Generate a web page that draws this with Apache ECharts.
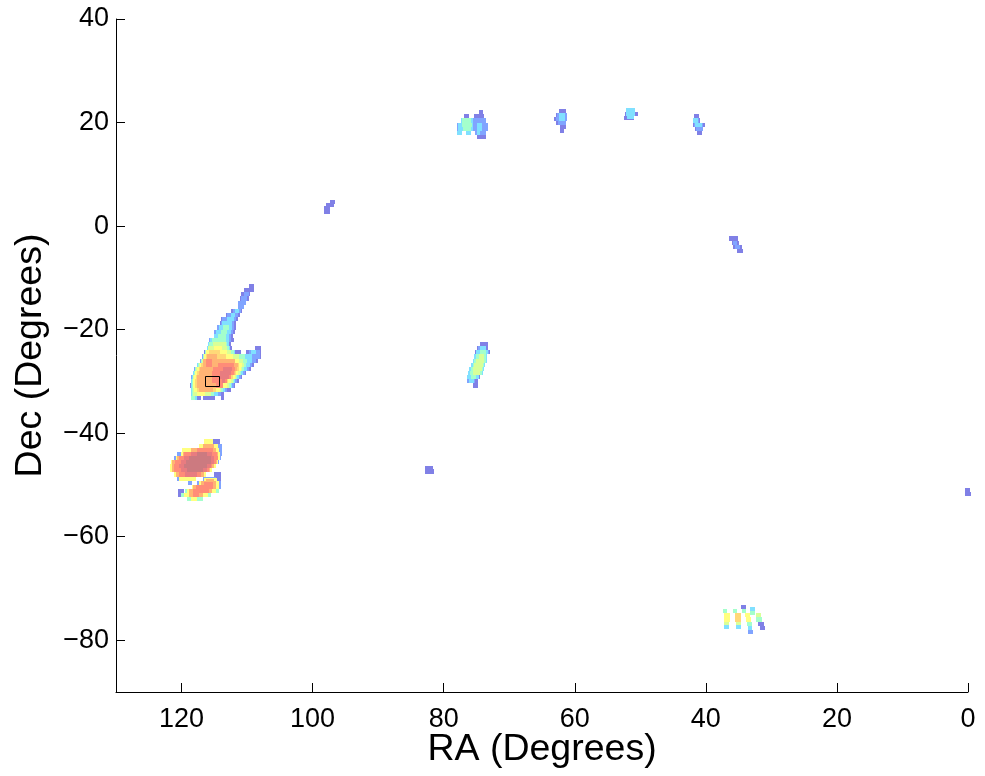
<!DOCTYPE html>
<html>
<head>
<meta charset="utf-8">
<style>html,body{margin:0;padding:0;background:#fff}#c{width:985px;height:776px}</style>
<script src="https://cdn.jsdelivr.net/npm/echarts@6/dist/echarts.min.js"></script>
</head>
<body>
<div id="c"></div>
<script>
const raTicks = [0,20,40,60,80,100,120];
const decTicks = [-80,-60,-40,-20,0,20,40];
const levelColors = ['#ffffff','#8080e6','#80a4ff','#80e0ff','#a4ffcc','#d8ff98','#ffff80','#ffd878','#ffb474','#ff8c78','#e87c80','#cc7a80'];
const boxRect = [116.4,114.3,-29,-31];

// rows: [dec of row top, RA left, RA right]
const mainViolet = [[-11.2,109.7,109],[-12,110.4,109],[-12.8,111,109.5],[-13.6,111.1,109.7],[-16,112.5,110.7],[-16.8,113.2,111.1],[-17.6,114,111.4],[-18.4,114.2,111.7],[-19.2,114.6,111.7],[-20,115,111.9],[-20.8,115.1,112.2],[-21.6,115.8,112],[-22.4,116,112.5],[-23.2,116.1,112.3],[-23.2,108.8,107.8],[-24,116.5,111],[-24,110.2,107.9],[-24.8,116.9,107.9],[-25.6,117.2,108.4],[-26.4,117.7,108.9],[-27.2,118.1,109.4],[-28,118.3,110.1],[-28.8,118.5,110.8],[-29.6,118.6,111.3],[-30.4,118.7,111.8],[-31.2,118.6,112.5],[-32,118.5,113.5],[-32.8,116.8,114.9],[-32.8,114,113.5],[-32.8,117.6,117]];
const mainBlue = [[-13.6,111,110],[-14.4,111.4,110.2],[-15.2,111.4,110.5],[-16,112.2,111],[-16.8,113,111.4],[-17.6,113.8,111.7],[-18.4,114,112],[-19.2,114.6,112],[-20,115,112.2],[-20.8,115.1,112.4],[-21.6,115.8,112.4],[-12.8,110.4,109.7],[-24,109.7,108.1],[-24.8,116.9,108],[-25.6,117.2,108.7],[-26.4,117.7,109.2],[-27.2,118.1,109.7],[-28,118.3,110.3],[-28.8,118.5,111],[-29.6,118.6,111.5],[-30.4,118.6,112],[-31.2,118.5,113],[-32,118.5,114]];
const mainCyan = [[-16,111.8,111.3],[-16.8,112.5,111.8],[-17.6,113,112],[-18.4,113.8,112.3],[-19.2,114.3,112.3],[-20,114.8,112.5],[-20.8,115,112.7],[-21.6,115.7,112.8],[-22.4,115.9,112.7],[-23.2,116.1,112.6],[-24,116.4,111.8],[-24,109.4,108.6],[-24.8,116.8,109.2],[-25.6,117.1,109.2],[-26.4,117.6,109.6],[-27.2,118,110],[-28,118.2,110.6],[-28.8,118.4,111.2],[-29.6,118.5,111.8],[-30.4,118.5,112.3],[-31.2,118.5,113.3],[-32,118.5,114.5],[-32.8,118.6,117.6]];
const mainGreen = [[-19.2,113.6,112.7],[-20,114,113],[-20.8,114.5,113.2],[-21.6,115.3,113.2],[-22.4,115.8,113],[-23.2,116,112.8],[-24,116.4,112],[-24.8,116.7,110.3],[-25.6,117,110],[-26.4,117.5,110.1],[-27.2,117.9,110.4],[-28,118.1,110.9],[-28.8,118.3,111.5],[-29.6,118.4,112],[-30.4,118.4,112.5],[-31.2,118.4,113.6],[-32,118.4,115],[-32.8,118.5,118]];
const mainLime = [[-22.4,115.2,113.2],[-23.2,115.9,113],[-24,116.3,112.5],[-24.8,116.6,111.2],[-25.6,116.9,110.6],[-26.4,117.3,110.5],[-27.2,117.8,110.7],[-28,118,111.1],[-28.8,118.2,111.7],[-29.6,118.3,112.2],[-30.4,118.3,112.8],[-31.2,118.3,114],[-32,118.2,115.5]];
const mainYellow = [[-23.2,115,113.8],[-24,116.2,113],[-24.8,116.5,112.2],[-25.6,116.8,111.2],[-26.4,117.2,110.8],[-27.2,117.7,111],[-28,117.9,111.4],[-28.8,118.1,111.9],[-29.6,118.2,112.5],[-30.4,118.2,113.1],[-31.2,118.1,114.2],[-32,117.6,116.4]];
const mainAmber = [[-24,115.8,114.2],[-24.8,116.2,113.2],[-25.6,116.5,112],[-26.4,117,111.2],[-27.2,117.4,111.3],[-28,117.6,111.7],[-28.8,117.8,112.2],[-29.6,117.9,112.9],[-30.4,117.9,113.6],[-31.2,117.6,114.8]];
const mainOrange = [[-24.8,116.1,114.6],[-25.6,116.8,111.8],[-26.4,116.8,111.4],[-27.2,117.2,111.5],[-28,117.4,111.9],[-28.8,117.6,112.4],[-29.6,117.7,113.2],[-30.4,117.7,114],[-31.2,117.3,115.2]];
const mainSalmon = [[-25.6,116.2,115.4],[-26.4,116.2,115.4],[-26.4,114.5,112],[-27.2,115.2,111.9],[-28,115.4,112],[-28.8,115.4,112.4],[-29.6,115.3,113],[-30.4,114.8,113.6]];
const mainRose = [[-27.2,113.6,112.3],[-28,114.2,112.4],[-28.8,114.2,112.8],[-29.6,113.8,113.4]];

const upperViolet = [[-41.2,115.5,114.1],[-48.4,116.6,115]];
const upperBlue = [[-41.2,114.8,114.1],[-42,115,113.9],[-42.8,115,113.8],[-43.6,120.7,113.8],[-44.4,121.1,114],[-45.2,121.6,114.3],[-46,121.7,114.8],[-46.8,121.7,115.3],[-47.6,121.2,116.3],[-48.4,120.7,119.4]];
const upperYellow = [[-41.2,116.6,115.2],[-42,117.3,114.4],[-42.8,119.9,114.3],[-43.6,120.1,114.2],[-44.4,120.9,114.2],[-45.2,121.6,114.4],[-46,121.7,114.8],[-46.8,121.7,115.3],[-47.6,121.1,116.3],[-48.4,120.4,117.8]];
const upperOrange = [[-42,116.8,115],[-42.8,118.6,114.8],[-43.6,119.8,114.5],[-44.4,120.7,114.4],[-45.2,121.4,114.6],[-46,121.5,115],[-46.8,121.5,115.6],[-47.6,120.9,116.6]];
const upperSalmon = [[-42.8,117.6,115.2],[-43.6,119.6,114.6],[-44.4,120.4,114.5],[-45.2,121,114.8],[-46,121.1,115.3],[-46.8,121.1,115.8],[-47.6,120.4,117]];
const upperPink = [[-43.6,118.6,115.3],[-44.4,119.6,115],[-45.2,120.1,115],[-46,120.4,115.5],[-46.8,120.1,116.1],[-47.6,119.4,117.6]];
const upperRose = [[-43.6,117.6,116.1],[-44.4,118.85,115.55],[-45.2,119.35,115.5],[-46,119.6,116.1],[-46.8,119.1,116.8]];

const lowerViolet = [[-47.6,115,114],[-48.4,114.8,114],[-50.8,120.5,119.7],[-51.6,120.5,119.7]];
const lowerBlue = [[-48.4,116.8,114.8],[-49.2,119,118.4],[-49.2,117.6,114],[-50,118,114]];
const lowerCyan = [[-50.8,119.4,114.3],[-51.6,120.1,115.5],[-52.4,119.1,116.8]];
const lowerYellow = [[-48.6,116.6,114.6],[-49.2,117.4,114.3],[-50,118.4,114.3],[-50.8,119.2,114.8],[-51.6,119.6,116],[-52.4,118.6,117.6]];
const lowerOrange = [[-48.9,116.3,115],[-49.2,117,114.7],[-50,118.2,114.8],[-50.8,118.8,115.3],[-51.6,118.8,116.8]];
const lowerSalmon = [[-49.5,116.6,115.2],[-50,117.8,115.2],[-50.8,118.3,115.8],[-51.6,118.3,117.3]];

const clusterViolet = [[22.4,74.6,74],[21.6,76.9,76.1],[21.6,75.4,73.9],[17.6,74.9,73.6]];
const clusterBlue = [[20.8,77.2,73.6],[20,77.9,73.3],[19.2,77.9,73.3],[18.4,78,77.2],[18.4,75.2,73.6]];
const clusterCyan = [[20.8,77.4,75.6],[20,77.8,75.5],[19.2,77.8,75.6],[18.4,77.9,77.2],[18.4,76.6,75.8],[20,74.9,74.2],[19.2,74.9,74.2],[18.4,74.9,74.4]];
const clusterGreen = [[20.8,77.2,75.8],[20,77.2,75.7],[19.2,77,75.8]];

const blobAViolet = [[22.7,62.4,61.4],[21.9,62.8,61.3],[21.1,63.2,61.2],[20.3,62.8,61.3],[19.6,62.2,61.4],[18.8,62.3,61.6]];
const blobABlue = [[21.9,62.7,61.2],[21.1,62.9,61.2],[20.4,62.6,61.4]];
const blobACyan = [[21.9,62.4,61.5],[21.1,62.4,61.5]];
const blobBViolet = [[22.8,52.2,50.9],[22,52.3,50.35],[21.2,52.5,50.9]];
const blobBCyan = [[22.8,52.2,50.8],[22,52.2,50.8],[21.5,52,51]];
const blobCViolet = [[21.6,41.8,41],[20.8,42,40.9],[20,41.9,40.2],[19.2,41.6,40.4],[18.4,41.3,40.6]];
const blobCBlue = [[20.8,41.9,41],[20,41.8,40.4],[19.2,41.5,40.5]];
const blobCCyan = [[20.8,41.9,41.2],[20,41.7,40.6]];

const ribViolet = [[-22.4,74.5,73.3],[-23.2,74.9,73.3],[-24,75.2,73],[-28.8,76.5,74.4],[-29.6,76.5,74.7],[-30.4,75.6,74.7]];
const ribBlue = [[-23.2,74.7,73.5],[-24,75.1,73.1],[-28.8,76.5,74.6],[-29.6,76.5,75.2]];
const ribCyan = [[-23.2,74.5,73.6],[-24,75,73.2],[-24.8,75.3,73.4],[-25.6,75.6,73.4],[-26.4,75.9,73.7],[-27.2,76.1,73.8],[-28,76.3,74],[-28.8,76.4,74.6],[-29.6,76.2,75.4]];
const ribGreen = [[-24,74.5,73.6],[-24.8,75,73.6],[-25.6,75.3,73.6],[-26.4,75.6,73.9],[-27.2,75.9,74],[-28,76,74.2],[-28.8,75.8,75]];
const ribLime = [[-24.8,74.6,73.8],[-25.6,75,73.8],[-26.4,75.3,74],[-27.2,75.5,74.2],[-28,75.5,74.5]];

const stripeViolet = [[-73.2,34.6,33.9],[-76.4,32.1,31.2],[-77.2,31.8,30.9]];
const stripeBlue = [[-78,33.6,32.8]];
const stripeCyan = [[-77,35.4,34.7],[-77.2,33.6,32.9],[-73.6,33.2,32.5],[-77,37.2,36.4]];
const stripeGreen = [[-74,37.4,36.8],[-74,35.9,35.3],[-74,34.5,33.8],[-76.4,33.7,32.9],[-74.4,33.2,32.5],[-75.6,32.3,31.5]];
const stripeLime = [[-76.2,37.2,36.4],[-76.2,35.4,34.7],[-74.8,32.4,31.6]];
const stripeYellow = [[-74.8,37.2,36.3],[-75.6,37.2,36.3],[-74.8,34,33.2],[-75.6,33.9,33.1]];
const stripeAmber = [[-74.8,35.5,34.66],[-75.6,35.5,34.66]];

const smallViolet = [[-2,36.5,35.1],[-2.8,36,35],[-3.6,35.8,34.5],[-4.4,35.3,34.4],[5.1,97.4,96.6],[4.5,98,96.7],[3.8,98.2,97.4],[3.2,98.2,97.4],[-46.4,82.9,81.6],[-47,82.8,81.5],[-50.6,0.4,-0.3],[-51.4,0.5,-0.4]];
const smallBlue = [[-2.8,35.8,35.2],[-3.6,35.6,34.8]];

const layers = [
  [mainViolet,1],[mainBlue,2],[mainCyan,3],[mainGreen,4],[mainLime,5],[mainYellow,6],[mainAmber,7],[mainOrange,8],[mainSalmon,9],[mainRose,10],
  [upperBlue,2],[upperViolet,1],[upperYellow,6],[upperOrange,8],[upperSalmon,9],[upperPink,10],[upperRose,11],
  [lowerBlue,2],[lowerViolet,1],[lowerCyan,4],[lowerYellow,6],[lowerOrange,8],[lowerSalmon,9],
  [clusterViolet,1],[clusterBlue,2],[clusterCyan,3],[clusterGreen,4],
  [blobAViolet,1],[blobABlue,2],[blobACyan,3],[blobBViolet,1],[blobBCyan,3],[blobCViolet,1],[blobCBlue,2],[blobCCyan,3],
  [ribViolet,1],[ribBlue,2],[ribCyan,3],[ribGreen,4],[ribLime,5],
  [stripeViolet,1],[stripeBlue,2],[stripeCyan,3],[stripeGreen,4],[stripeLime,5],[stripeYellow,6],[stripeAmber,7],
  [smallViolet,1],[smallBlue,2]
];
const rowHeight = 0.8;
const cells = [];
layers.forEach(([rows,level]) => rows.forEach(r => cells.push([r[0],r[1],r[2],level])));

const font = '"Liberation Sans", Arial, Helvetica, sans-serif';
const fmt = v => String(v).replace('-', '\u2212');
const chart = echarts.init(document.getElementById('c'), null, {renderer:'canvas'});
chart.setOption({
  animation:false,
  backgroundColor:'#ffffff',
  grid:{left:116,right:17,top:19,bottom:84,outerBoundsMode:'none',containLabel:false},
  xAxis:{
    type:'value',inverse:true,min:0,max:130,
    name:'RA (Degrees)',nameLocation:'middle',nameGap:39,nameMoveOverlap:false,
    nameTextStyle:{fontFamily:font,fontSize:37.5,color:'#000'},
    axisLine:{show:true,onZero:false,lineStyle:{color:'#000',width:1}},
    axisTick:{show:true,inside:true,length:9,customValues:raTicks,lineStyle:{color:'#000',width:1}},
    axisLabel:{show:true,customValues:raTicks,formatter:fmt,fontFamily:font,fontSize:27,color:'#000',margin:14},
    splitLine:{show:false}
  },
  yAxis:{
    type:'value',min:-90,max:40,
    name:'Dec (Degrees)',nameLocation:'middle',nameGap:66,
    nameTextStyle:{fontFamily:font,fontSize:37.5,color:'#000'},
    axisLine:{show:true,onZero:false,lineStyle:{color:'#000',width:1}},
    axisTick:{show:true,inside:true,length:9,customValues:decTicks,lineStyle:{color:'#000',width:1}},
    axisLabel:{show:true,customValues:decTicks,formatter:fmt,fontFamily:font,fontSize:27,color:'#000',margin:7,padding:[3,0,0,0]},
    splitLine:{show:false}
  },
  series:[
    {
      type:'custom',clip:false,silent:true,z:2,
      data:cells,
      encode:{x:[1,2],y:0},
      renderItem:(p,api)=>{
        const a=api.coord([api.value(1),api.value(0)]);
        const b=api.coord([api.value(2),api.value(0)-rowHeight]);
        const x0=Math.round(a[0]),y0=Math.round(a[1]),x1=Math.round(b[0]),y1=Math.round(b[1]);
        return {type:'rect',shape:{x:x0,y:y0,width:Math.max(1,x1-x0),height:Math.max(1,y1-y0)},style:{fill:levelColors[api.value(3)]}};
      }
    },
    {
      type:'custom',clip:false,silent:true,z:3,
      data:[boxRect],
      encode:{x:[0,1],y:[2,3]},
      renderItem:(p,api)=>{
        const a=api.coord([api.value(0),api.value(2)]);
        const b=api.coord([api.value(1),api.value(3)]);
        return {type:'rect',shape:{x:Math.round(a[0])+0.5,y:Math.round(a[1])+0.5,width:Math.round(b[0]-a[0]),height:Math.round(b[1]-a[1])},style:{fill:'none',stroke:'#000',lineWidth:1}};
      }
    }
  ]
});
</script>
</body>
</html>
